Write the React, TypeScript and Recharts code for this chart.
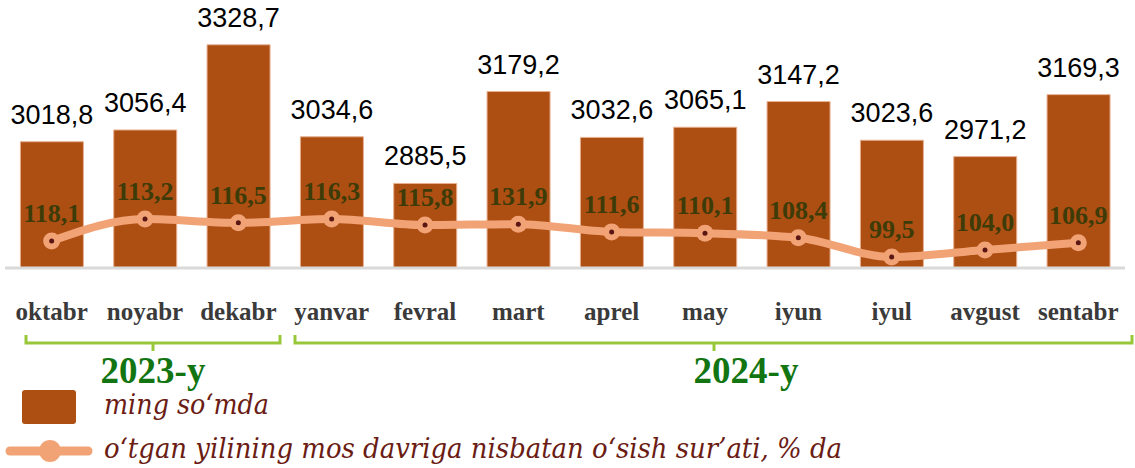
import React from "react";
import { ComposedChart, Bar, Line, XAxis, YAxis, LabelList } from "recharts";

const months = ["oktabr", "noyabr", "dekabr", "yanvar", "fevral", "mart", "aprel", "may", "iyun", "iyul", "avgust", "sentabr"];
const wages = [3018.8, 3056.4, 3328.7, 3034.6, 2885.5, 3179.2, 3032.6, 3065.1, 3147.2, 3023.6, 2971.2, 3169.3];
const growthLabels = [118.1, 113.2, 116.5, 116.3, 115.8, 131.9, 111.6, 110.1, 108.4, 99.5, 104.0, 106.9];
// vertical level of the growth line as drawn in the picture (secondary axis units)
const growthLevel = [68.4, 75.2, 74.0, 75.2, 73.3, 73.6, 71.2, 70.8, 69.4, 63.4, 65.6, 67.8];
const years = ["2023-y", "2024-y"];
const legendBar = "ming so‘mda";
const legendLine = "o‘tgan yilining mos davriga nisbatan o‘sish sur’ati, % da";

const data = months.map((m, i) => ({ m, w: wages[i], g: growthLevel[i], gl: growthLabels[i] }));

const BAR = "#AD4E13";
const LINE = "#F2A376";
const fmt = (v: number) => v.toFixed(1).replace(".", ",");

const BarLabel = (p: any) => (
  <text x={p.x + p.width / 2} y={p.y - 18} textAnchor="middle" fontFamily="Liberation Sans, Arial, sans-serif" fontSize={27} fill="#000">
    {fmt(p.value)}
  </text>
);

const LineLabel = (p: any) => (
  <text x={p.x} y={p.y - 19} textAnchor="middle" fontFamily="Liberation Serif, Times New Roman, serif" fontWeight="bold" fontSize={26} fill="#3D3B08">
    {fmt(growthLabels[p.index])}
  </text>
);

const Dot = (p: any) => (
  <g key={p.index}>
    <circle cx={p.cx} cy={p.cy} r={8.5} fill={LINE} />
    <circle cx={p.cx} cy={p.cy} r={2.5} fill="#5A1612" />
  </g>
);

const Tick = (p: any) => (
  <text x={p.x} y={p.y + 44} textAnchor="middle" fontFamily="Liberation Serif, Times New Roman, serif" fontWeight="bold" fontSize={25} fill="#3A3A3A">
    {p.payload.value}
  </text>
);

export default function App() {
  const green = "#98C83A";
  return (
    <div style={{ position: "absolute", left: 0, top: 0, width: 1135, height: 468, background: "#fff" }}>
      <ComposedChart width={1135} height={468} data={data} margin={{ top: 10, right: 10, bottom: 140, left: 5 }} barCategoryGap="16.5%">
        <XAxis dataKey="m" axisLine={{ stroke: "#D9D9D9", strokeWidth: 3 }} tickLine={false} tick={<Tick />} height={60} interval={0} />
        <YAxis yAxisId="l" hide domain={[2615, 3440]} />
        <YAxis yAxisId="r" orientation="right" hide domain={[60, 140]} />
        <Bar yAxisId="l" dataKey="w" fill={BAR} stroke="#E8B090" strokeWidth={1} isAnimationActive={false}>
          <LabelList dataKey="w" content={<BarLabel />} />
        </Bar>
        <Line yAxisId="r" dataKey="g" type="monotone" stroke={LINE} strokeWidth={8} dot={<Dot />} activeDot={false} isAnimationActive={false}>
          <LabelList dataKey="g" content={<LineLabel />} />
        </Line>
      </ComposedChart>
      <svg width={1135} height={468} style={{ position: "absolute", left: 0, top: 0, pointerEvents: "none" }}>
        <path d="M26 335 V343 H280 V335 M153 343 V351" fill="none" stroke={green} strokeWidth={3} />
        <path d="M295 335 V343 H1132 V335 M714 343 V351" fill="none" stroke={green} strokeWidth={3} />
        <text x={153} y={383} textAnchor="middle" fontFamily="Liberation Serif, Times New Roman, serif" fontWeight="bold" fontSize={37} fill="#127512">{years[0]}</text>
        <text x={746} y={383} textAnchor="middle" fontFamily="Liberation Serif, Times New Roman, serif" fontWeight="bold" fontSize={37} fill="#127512">{years[1]}</text>
        <rect x={22} y={390} width={54} height={34} rx={3} fill={BAR} />
        <text x={104} y={414} fontFamily="DejaVu Serif, serif" fontStyle="italic" fontSize={28} fill="#6B1C14" textLength={165} lengthAdjust="spacingAndGlyphs">{legendBar}</text>
        <line x1={10} y1={451} x2={88} y2={451} stroke={LINE} strokeWidth={9} strokeLinecap="round" />
        <circle cx={50} cy={451} r={11} fill={LINE} />
        <text x={104} y={458} fontFamily="DejaVu Serif, serif" fontStyle="italic" fontSize={28} fill="#6B1C14" textLength={738} lengthAdjust="spacingAndGlyphs">{legendLine}</text>
      </svg>
    </div>
  );
}
